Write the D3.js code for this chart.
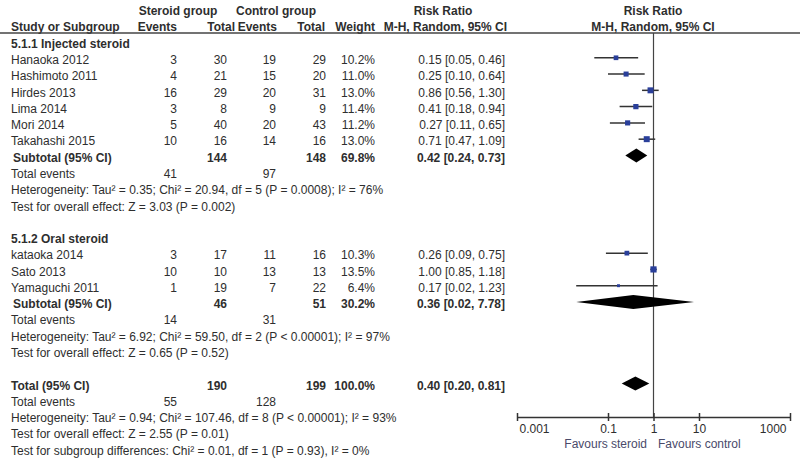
<!DOCTYPE html>
<html lang="en">
<head>
<meta charset="UTF-8">
<title>Forest plot - steroid vs control</title>
<script src="https://d3js.org/d3.v7.min.js"></script>
<style>
  body { margin: 0; background: #fff; }
  text { font-family: "Liberation Sans", Arial, sans-serif; font-size: 12px; fill: #2e2e2e; }
  .b { font-weight: bold; }
</style>
</head>
<body>
<div id="chart"></div>
<script>
// study rows
const studies = ["Hanaoka 2012", "Hashimoto 2011", "Hirdes 2013", "Lima 2014", "Mori 2014", "Takahashi 2015",
                 "kataoka 2014", "Sato 2013", "Yamaguchi 2011"];
const studyGroup = [0, 0, 0, 0, 0, 0, 1, 1, 1];
const steroidEvents = [3, 4, 16, 3, 5, 10, 3, 10, 1];
const steroidTotal = [30, 21, 29, 8, 40, 16, 17, 10, 19];
const controlEvents = [19, 15, 20, 9, 20, 14, 11, 13, 7];
const controlTotal = [29, 20, 31, 9, 43, 16, 16, 13, 22];
const weights = [10.2, 11.0, 13.0, 11.4, 11.2, 13.0, 10.3, 13.5, 6.4];
const rr = [0.15, 0.25, 0.86, 0.41, 0.27, 0.71, 0.26, 1.00, 0.17];
const rrLo = [0.05, 0.10, 0.56, 0.18, 0.11, 0.47, 0.09, 0.85, 0.02];
const rrHi = [0.46, 0.64, 1.30, 0.94, 0.65, 1.09, 0.75, 1.18, 1.23];

// subgroups
const groupNames = ["5.1.1 Injected steroid", "5.1.2 Oral steroid"];
const subSteroidTotal = [144, 46];
const subControlTotal = [148, 51];
const subWeight = [69.8, 30.2];
const subSteroidEvents = [41, 14];
const subControlEvents = [97, 31];
const subRR = [0.42, 0.36];
const subLo = [0.24, 0.02];
const subHi = [0.73, 7.78];
const subHet = ["Heterogeneity: Tau² = 0.35; Chi² = 20.94, df = 5 (P = 0.0008); I² = 76%",
                "Heterogeneity: Tau² = 6.92; Chi² = 59.50, df = 2 (P < 0.00001); I² = 97%"];
const subTest = ["Test for overall effect: Z = 3.03 (P = 0.002)",
                 "Test for overall effect: Z = 0.65 (P = 0.52)"];

// overall
const totSteroid = 190, totControl = 199, totWeight = 100.0;
const totSteroidEvents = 55, totControlEvents = 128;
const totRR = 0.40, totLo = 0.20, totHi = 0.81;
const totHet = "Heterogeneity: Tau² = 0.94; Chi² = 107.46, df = 8 (P < 0.00001); I² = 93%";
const totTest = "Test for overall effect: Z = 2.55 (P = 0.01)";
const subgroupDiff = "Test for subgroup differences: Chi² = 0.01, df = 1 (P = 0.93), I² = 0%";

// axis ticks
const tickValues = [0.001, 0.1, 1, 10, 1000];
const tickLabels = ["0.001", "0.1", "1", "10", "1000"];

const width = 800, height = 458;

const svg = d3.select("#chart").append("svg")
  .attr("width", width).attr("height", height);

// row index -> y (text centre)
const y = d3.scaleLinear().domain([0, 25]).range([43.5, 450.5]);
const x = d3.scaleLog().domain([0.001, 1000]).range([517, 790]);
const sq = d3.scaleLinear().domain([0, 13.5]).range([0, 6.2]);

// column right edges
const col = { se: 177, st: 227, ce: 276, ct: 326, w: 375, rr: 505 };
const f2 = d3.format(".2f");
const ciText = (m, l, h) => `${f2(m)} [${f2(l)}, ${f2(h)}]`;

function txt(xp, yp, s, anchor = "start", bold = false, indent = 0) {
  svg.append("text")
    .attr("x", xp + indent).attr("y", yp).attr("dy", "0.35em")
    .attr("text-anchor", anchor)
    .attr("class", bold ? "b" : null)
    .text(s);
}

// headers
txt(178, 11, "Steroid group", "middle", true);
txt(276, 11, "Control group", "middle", true);
txt(443, 11, "Risk Ratio", "middle", true);
txt(653, 11, "Risk Ratio", "middle", true);
txt(11, 27, "Study or Subgroup", "start", true);
txt(177, 27, "Events", "end", true);
txt(235, 27, "Total", "end", true);
txt(277, 27, "Events", "end", true);
txt(325, 27, "Total", "end", true);
txt(375, 27, "Weight", "end", true);
txt(507, 27, "M-H, Random, 95% CI", "end", true);
txt(653, 27, "M-H, Random, 95% CI", "middle", true);

svg.append("line")
  .attr("x1", 0).attr("x2", width).attr("y1", 33).attr("y2", 33)
  .attr("stroke", "#444").attr("stroke-width", 1.5);

// vertical line of no effect
svg.append("line")
  .attr("x1", x(1)).attr("x2", x(1)).attr("y1", 33).attr("y2", 417)
  .attr("stroke", "#444").attr("stroke-width", 1.2);

function diamond(row, m, l, h) {
  const yc = y(row) - 2;
  svg.append("path")
    .attr("d", `M${x(l)},${yc} L${x(m)},${yc - 7} L${x(h)},${yc} L${x(m)},${yc + 7} Z`)
    .attr("fill", "#000");
}

// layout rows
let row = 0;
groupNames.forEach((g, gi) => {
  txt(11, y(row), g, "start", true);
  row++;
  studies.forEach((s, i) => {
    if (studyGroup[i] !== gi) return;
    const yr = y(row);
    txt(11, yr, s);
    txt(col.se, yr, steroidEvents[i], "end");
    txt(col.st, yr, steroidTotal[i], "end");
    txt(col.ce, yr, controlEvents[i], "end");
    txt(col.ct, yr, controlTotal[i], "end");
    txt(col.w, yr, d3.format(".1f")(weights[i]) + "%", "end");
    txt(col.rr, yr, ciText(rr[i], rrLo[i], rrHi[i]), "end");
    svg.append("line")
      .attr("x1", x(rrLo[i])).attr("x2", x(rrHi[i]))
      .attr("y1", yr - 2).attr("y2", yr - 2)
      .attr("stroke", "#333").attr("stroke-width", 1.5);
    const s2 = sq(weights[i]);
    svg.append("rect")
      .attr("x", x(rr[i]) - s2 / 2).attr("y", yr - 2 - s2 / 2)
      .attr("width", s2).attr("height", s2)
      .attr("fill", "#2a3f9a");
    row++;
  });
  const ys = y(row);
  txt(11, ys, "Subtotal (95% CI)", "start", true, 2);
  txt(col.st, ys, subSteroidTotal[gi], "end", true);
  txt(col.ct, ys, subControlTotal[gi], "end", true);
  txt(col.w, ys, d3.format(".1f")(subWeight[gi]) + "%", "end", true);
  txt(col.rr, ys, ciText(subRR[gi], subLo[gi], subHi[gi]), "end", true);
  diamond(row, subRR[gi], subLo[gi], subHi[gi]);
  row++;
  txt(11, y(row), "Total events");
  txt(col.se, y(row), subSteroidEvents[gi], "end");
  txt(col.ce, y(row), subControlEvents[gi], "end");
  row++;
  txt(11, y(row), subHet[gi]);
  row++;
  txt(11, y(row), subTest[gi]);
  row += 2;
});

// overall
const yt = y(row);
txt(11, yt, "Total (95% CI)", "start", true);
txt(col.st, yt, totSteroid, "end", true);
txt(col.ct, yt, totControl, "end", true);
txt(col.w, yt, d3.format(".1f")(totWeight) + "%", "end", true);
txt(col.rr, yt, ciText(totRR, totLo, totHi), "end", true);
diamond(row, totRR, totLo, totHi);
row++;
txt(11, y(row), "Total events");
txt(col.se, y(row), totSteroidEvents, "end");
txt(col.ce, y(row), totControlEvents, "end");
row++;
txt(11, y(row), totHet); row++;
txt(11, y(row), totTest); row++;
txt(11, y(row), subgroupDiff);

// x axis
const ax = svg.append("g")
  .attr("transform", "translate(0,417)")
  .call(d3.axisBottom(x).tickValues(tickValues)
    .tickFormat((d, i) => tickLabels[i]).tickSize(4).tickSizeOuter(0).tickPadding(3));
ax.select(".domain").attr("stroke", "#333").attr("stroke-width", 1.5);
ax.selectAll(".tick line").attr("y1", -4).attr("y2", 4).attr("stroke", "#333").attr("stroke-width", 1.5);
ax.selectAll(".tick text").style("font-family", "Liberation Sans, Arial, sans-serif")
  .style("font-size", "12px").attr("fill", "#2e2e2e")
  .attr("text-anchor", (d, i) => i === 0 ? "start" : i === tickValues.length - 1 ? "end" : "middle")
  .attr("dx", (d, i) => i === 0 ? 2 : i === tickValues.length - 1 ? -4 : 0);

svg.append("text").attr("x", 647).attr("y", 444).attr("dy", "0.35em")
  .attr("text-anchor", "end").style("fill", "#4a4a6a").text("Favours steroid");
svg.append("text").attr("x", 658).attr("y", 444).attr("dy", "0.35em")
  .style("fill", "#4a4a6a").text("Favours control");
</script>
</body>
</html>
